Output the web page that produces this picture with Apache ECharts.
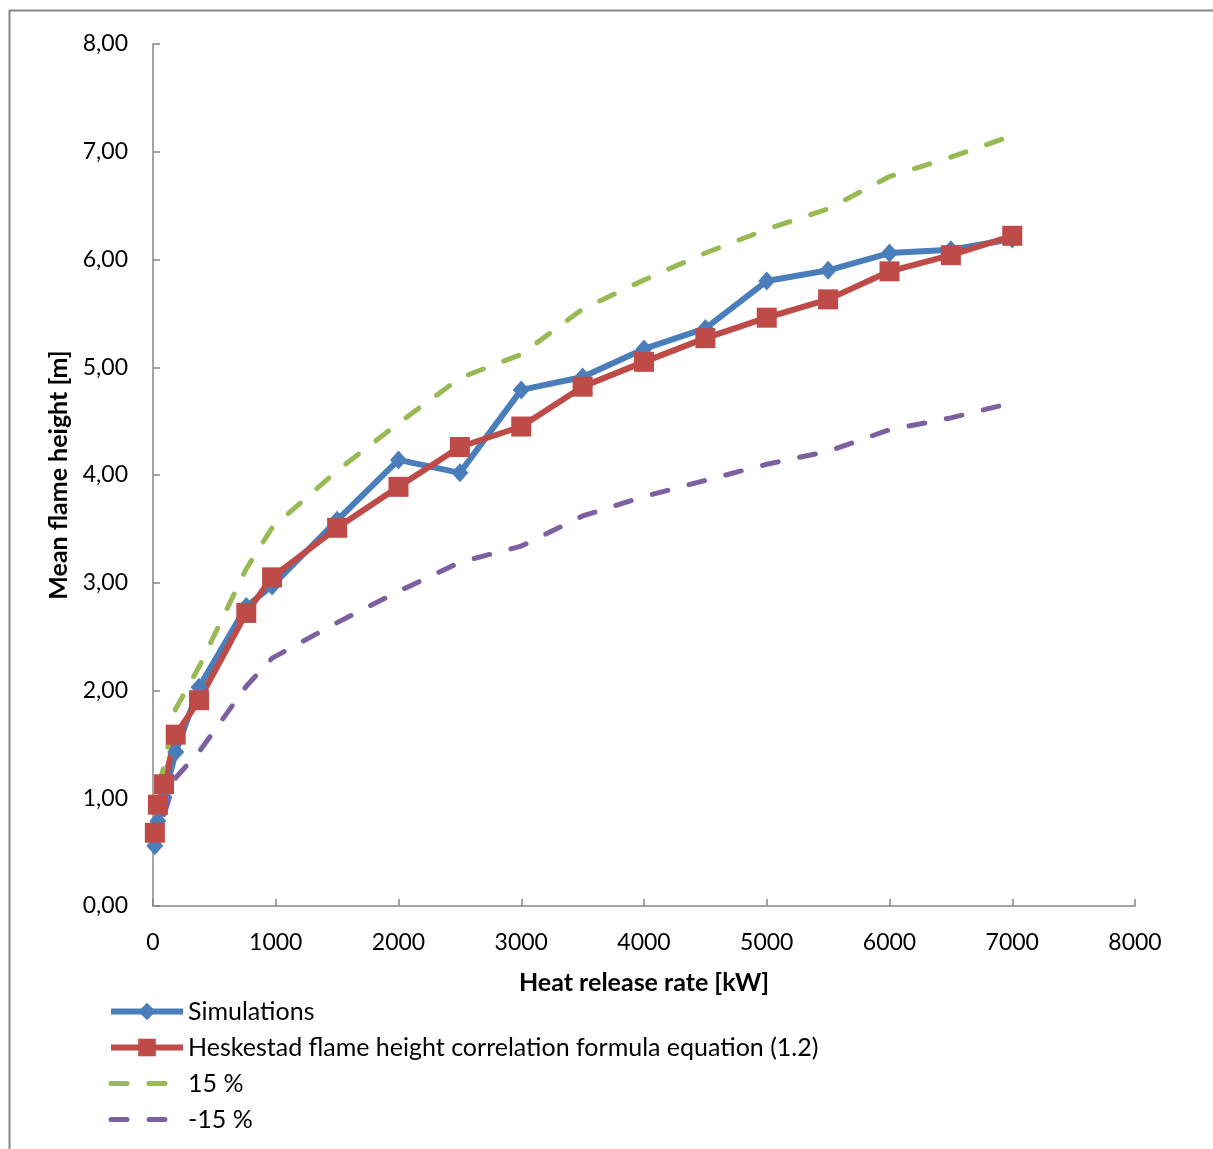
<!DOCTYPE html>
<html>
<head>
<meta charset="utf-8">
<script src="https://cdn.jsdelivr.net/npm/echarts@6/dist/echarts.min.js"></script>
<style>
html,body{margin:0;padding:0;background:#fff;}
#c{width:1213px;height:1149px;}
</style>
</head>
<body>
<div id="c"></div>
<script>
// Data
var hrr = [15, 40, 90, 185, 375, 760, 970, 1500, 2000, 2500, 3000, 3500, 4000, 4500, 5000, 5500, 6000, 6500, 7000];
var simulations = [0.56, 0.79, 1.01, 1.43, 2.03, 2.78, 2.97, 3.58, 4.14, 4.02, 4.79, 4.91, 5.17, 5.36, 5.80, 5.90, 6.06, 6.09, 6.19];
var heskestad = [0.68, 0.94, 1.13, 1.59, 1.91, 2.72, 3.05, 3.51, 3.89, 4.26, 4.45, 4.82, 5.05, 5.27, 5.46, 5.63, 5.89, 6.04, 6.22];
var plus15 = [0.78, 1.08, 1.30, 1.83, 2.22, 3.13, 3.51, 4.04, 4.48, 4.90, 5.12, 5.54, 5.81, 6.06, 6.28, 6.47, 6.77, 6.95, 7.15];
var minus15 = [0.51, 0.70, 0.85, 1.19, 1.43, 2.04, 2.30, 2.63, 2.92, 3.19, 3.34, 3.62, 3.80, 3.95, 4.10, 4.22, 4.42, 4.53, 4.67];
var seriesNames = ['Simulations', 'Heskestad flame height correlation formula equation (1.2)', '15 %', '-15 %'];
var xTicks = {min: 0, max: 8000, interval: 1000};
var yTicks = {min: 0, max: 8, interval: 1};

function pairs(xs, ys) { return xs.map(function (x, i) { return [x, ys[i]]; }); }

var FONT = 'Lato';
var axisColor = '#868686';
var chart = echarts.init(document.getElementById('c'), null, {renderer: 'canvas'});
chart.setOption({
  backgroundColor: '#fff',
  animation: false,
  graphic: [{
    type: 'rect', left: 7, top: 8, silent: true,
    shape: {width: 1400, height: 1400},
    style: {fill: 'none', stroke: axisColor, lineWidth: 2}
  }],
  grid: {left: 153, right: 78, top: 44, bottom: 243, containLabel: false},
  legend: {
    orient: 'vertical', left: 103, top: 994,
    itemWidth: 72, itemHeight: 22, itemGap: 11,
    lineStyle: {width: 'inherit'},
    textStyle: {fontFamily: FONT, fontSize: 25, color: '#000'},
    data: [
      {name: seriesNames[0]},
      {name: seriesNames[1]},
      {name: seriesNames[2], itemStyle: {opacity: 0}},
      {name: seriesNames[3], itemStyle: {opacity: 0}}
    ]
  },
  xAxis: {
    type: 'value', min: xTicks.min, max: xTicks.max, interval: xTicks.interval,
    name: 'Heat release rate [kW]', nameLocation: 'middle', nameGap: 64,
    nameTextStyle: {fontFamily: FONT, fontSize: 25, fontWeight: 'bold', color: '#000'},
    axisLine: {lineStyle: {color: axisColor, width: 1.5}},
    axisTick: {inside: true, length: 7, lineStyle: {color: axisColor, width: 1.5}},
    axisLabel: {fontFamily: FONT, fontSize: 23, color: '#000', margin: 25,
      formatter: function (v) { return String(v); }},
    splitLine: {show: false}
  },
  yAxis: {
    type: 'value', min: yTicks.min, max: yTicks.max, interval: yTicks.interval,
    name: 'Mean flame height [m]', nameLocation: 'middle', nameGap: 82,
    nameTextStyle: {fontFamily: FONT, fontSize: 25, fontWeight: 'bold', color: '#000'},
    axisLine: {show: true, lineStyle: {color: axisColor, width: 1.5}},
    axisTick: {show: true, inside: true, length: 7, lineStyle: {color: axisColor, width: 1.5}},
    axisLabel: {fontFamily: FONT, fontSize: 23, color: '#000', margin: 25,
      formatter: function (v) { return v.toFixed(2).replace('.', ','); }},
    splitLine: {show: false}
  },
  series: [
    {
      name: seriesNames[0], type: 'line', data: pairs(hrr, simulations),
      symbol: 'diamond', symbolSize: [17, 19], showAllSymbol: true,
      itemStyle: {color: '#4A7EBB'},
      lineStyle: {color: '#4A7EBB', width: 6}
    },
    {
      name: seriesNames[1], type: 'line', data: pairs(hrr, heskestad),
      symbol: 'rect', symbolSize: 20, showAllSymbol: true,
      itemStyle: {color: '#BE4B48'},
      lineStyle: {color: '#BE4B48', width: 6}
    },
    {
      name: seriesNames[2], type: 'line', data: pairs(hrr, plus15),
      symbol: 'none', itemStyle: {color: '#98B954'},
      lineStyle: {color: '#98B954', width: 5, type: [16, 22], cap: 'round'}
    },
    {
      name: seriesNames[3], type: 'line', data: pairs(hrr, minus15),
      symbol: 'none', itemStyle: {color: '#7D60A0'},
      lineStyle: {color: '#7D60A0', width: 5, type: [16, 22], cap: 'round'}
    }
  ]
});
</script>
</body>
</html>
